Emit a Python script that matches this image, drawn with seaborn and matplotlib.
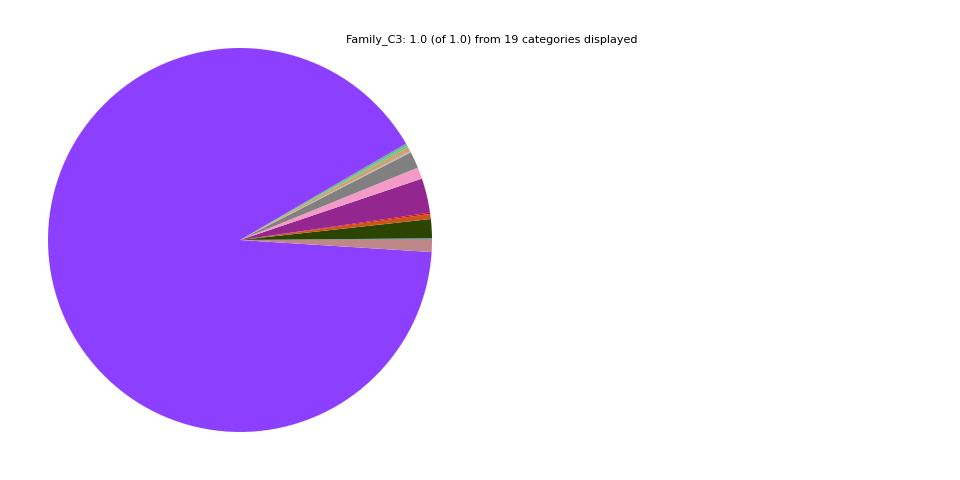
import matplotlib
matplotlib.use("Agg")
import matplotlib.pyplot as plt
import seaborn as sns

sns.set_style("white")

# categories in drawing order (counter-clockwise from 0 degrees)
labels = ["c01", "c02", "c03", "c04", "c05", "c06", "c07", "c08", "c09", "c10",
          "c11", "c12", "c13", "c14", "c15", "c16", "c17", "c18", "c19"]
shares = [0.0014, 0.0160, 0.0042, 0.0011, 0.0290, 0.0097, 0.0139, 0.0011, 0.0036, 0.0014,
          0.0004, 0.0004, 0.0003, 0.0003, 0.0003, 0.0003, 0.0003, 0.9040, 0.0100]
colors = ["#8a9aa6", "#2b4500", "#c8561a", "#e60000", "#93278f", "#f39ac6", "#808080",
          "#b4b4b4", "#d2a06e", "#64c882", "#00acc6", "#97ff00", "#0000dd", "#ffa52f",
          "#005659", "#00fdcf", "#573b00", "#8c3fff", "#bf8888"]

fig = plt.figure(figsize=(9.6, 4.8), dpi=100)
ax = fig.add_axes([0.0, 0.0, 0.5, 1.0])
ax.pie(shares, colors=colors, startangle=0, counterclock=True,
       wedgeprops={"linewidth": 0})
ax.set_aspect("equal")

fig.text(0.5125, 0.918, "Family_C3: 1.0 (of 1.0) from 19 categories displayed",
         ha="center", va="center", fontsize=8, color="black")

fig.savefig("out.png", dpi=100)
